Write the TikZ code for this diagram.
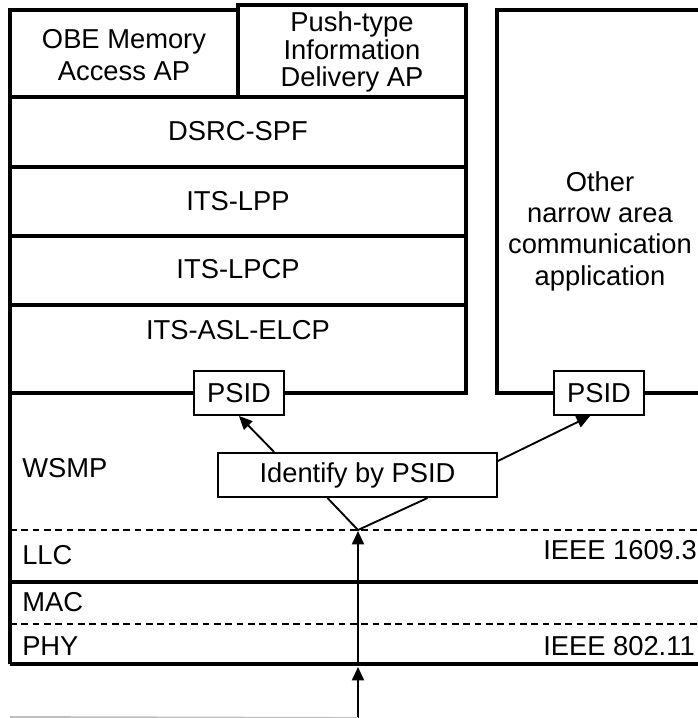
\documentclass[tikz,border=0pt]{standalone}
\usepackage{fontspec}
\setmainfont{Liberation Sans}
\usetikzlibrary{arrows.meta,calc}
\tikzset{
  layer/.style={line width=3.2pt},
  txt/.style={font=\fontsize{20.5}{24}\selectfont, inner sep=0pt, align=center},
  psid/.style={draw, line width=1.5pt, fill=white, font=\fontsize{20.5}{24}\selectfont,
    minimum width=68pt, minimum height=33pt, inner sep=0pt},
  sep/.style={line width=1.4pt, dash pattern=on 5pt off 3.5pt},
  flow/.style={line width=1.4pt}
}
\begin{document}
\begin{tikzpicture}[>={Triangle[length=10pt,width=9pt]},x=0.75pt,y=-0.75pt]
	\useasboundingbox (0,0) rectangle (697,718);
	% upper stack
	\draw[layer] (10,10) rectangle (238,97);
	\draw[layer] (238,5) rectangle (466,97);
	\draw[layer] (10,97) rectangle (466,167);
	\draw[layer] (10,167) rectangle (466,236);
	\draw[layer] (10,236) rectangle (466,305);
	\draw[layer] (10,305) rectangle (466,393);
	\draw[layer] (497,10) rectangle (720,393);
	\node[txt, font=\fontsize{20.5}{24.5}\selectfont] (obe) at (124,55) {OBE Memory\\Access AP};
	\node[txt, font=\fontsize{20.5}{20.5}\selectfont] (push) at (352,52) {Push-type\\Information\\Delivery AP};
	\node[txt] (spf) at (238,131) {DSRC-SPF};
	\node[txt] (lpp) at (238,201) {ITS-LPP};
	\node[txt] (lpcp) at (238,269) {ITS-LPCP};
	\node[txt] (elcp) at (238,330) {ITS-ASL-ELCP};
	\node[txt, font=\fontsize{20.5}{23.5}\selectfont] (other) at (600,231) {Other\\narrow area\\communication\\application};
	% lower layers
	\draw[layer] (10,393) -- (10,664);
	\draw[layer] (10,582) -- (720,582);
	\draw[layer] (10,664) -- (720,664);
	\draw[sep] (10,530) -- (720,530);
	\draw[sep] (10,624) -- (720,624);
	\node[txt, anchor=west] (wsmp) at (22,468) {WSMP};
	\node[txt, anchor=west] (llc) at (22,555) {LLC};
	\node[txt, anchor=east] (ieeeA) at (697,550) {IEEE 1609.3};
	\node[txt, anchor=west] (mac) at (22,602) {MAC};
	\node[txt, anchor=west] (phy) at (22,646) {PHY};
	\node[txt, anchor=east] (ieeeB) at (695,646) {IEEE 802.11};
	% PSID dispatch
	\node[psid] (psidL) at (239,393) {PSID};
	\node[psid] (psidR) at (599,393) {PSID};
	\node[psid, minimum width=209pt] (ident) at (357.5,475) {Identify by PSID};
	\coordinate (apex) at (358,530);
	\coordinate (bot) at (358,664);
	\coordinate (src) at (358,718);
	\draw[flow,->] ($(ident.north west)+(57,0)$) -- (psidL.south);
	\draw[flow,->] ($(ident.north east)+(0,9)$) -- ($(psidR.south)+(-9,0)$);
	\draw[flow] ($(ident.south)+(-30,0)$) -- (apex) -- ($(ident.south)+(70,0)$);
	\draw[flow,->] (bot) -- ($(apex)+(0,1)$);
	\draw[flow,->] (src) -- ($(bot)+(0,3)$);
	\draw[gray!50, line width=1.4pt] (10,717) -- (src);
\end{tikzpicture}
\end{document}
